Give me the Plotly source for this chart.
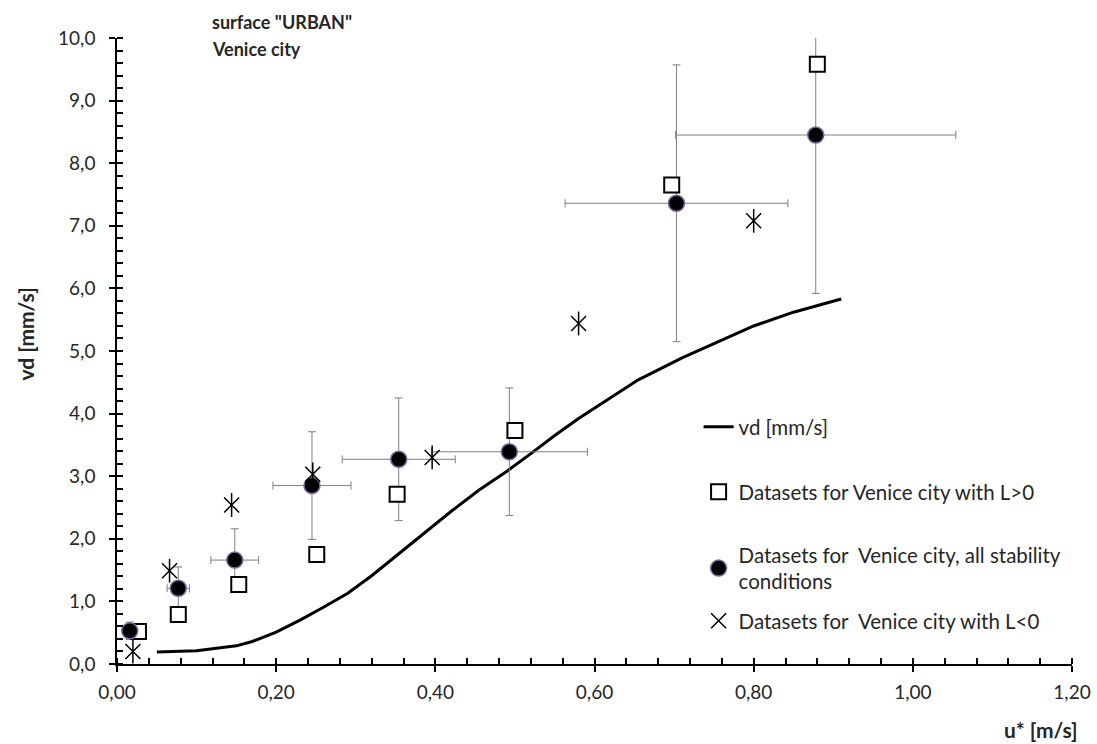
import plotly.graph_objects as go

# Model curve vd [mm/s]
line_x = [0.05, 0.10, 0.15, 0.17, 0.20, 0.23, 0.26, 0.29, 0.32, 0.355, 0.39, 0.42,
          0.455, 0.49, 0.52, 0.55, 0.58, 0.62, 0.655, 0.71, 0.75, 0.80, 0.85, 0.91]
line_y = [0.19, 0.21, 0.29, 0.36, 0.51, 0.70, 0.91, 1.13, 1.41, 1.77, 2.13, 2.44,
          2.78, 3.08, 3.36, 3.65, 3.92, 4.25, 4.54, 4.89, 5.12, 5.40, 5.62, 5.83]

# Datasets, all stability conditions (with error bars)
all_x = [0.016, 0.077, 0.148, 0.245, 0.354, 0.493, 0.703, 0.878]
all_y = [0.53, 1.21, 1.66, 2.85, 3.27, 3.39, 7.36, 8.45]
all_ex = [0.006, 0.014, 0.030, 0.049, 0.071, 0.098, 0.140, 0.176]
all_ey = [0.14, 0.34, 0.50, 0.86, 0.98, 1.02, 2.21, 2.53]

# Datasets with L>0
pos_x = [0.027, 0.077, 0.153, 0.251, 0.352, 0.500, 0.697, 0.880]
pos_y = [0.52, 0.79, 1.27, 1.75, 2.71, 3.73, 7.65, 9.58]

# Datasets with L<0
neg_x = [0.020, 0.066, 0.144, 0.246, 0.396, 0.580, 0.800]
neg_y = [0.20, 1.49, 2.54, 3.03, 3.30, 5.44, 7.08]

FONT = "Lato"
TXT = "#262626"
fig = go.Figure()

# model line
fig.add_trace(go.Scatter(x=line_x, y=line_y, mode="lines", name="vd [mm/s]",
                         line=dict(color="black", width=3), legend="legend"))

# error bars of all-stability datasets (drawn beneath markers)
fig.add_trace(go.Scatter(x=all_x, y=all_y, mode="markers", showlegend=False,
                         marker=dict(color="rgba(0,0,0,0)", size=1),
                         error_x=dict(type="data", array=all_ex, color="#7f7f7f",
                                      thickness=1, width=4),
                         error_y=dict(type="data", array=all_ey, color="#7f7f7f",
                                      thickness=1, width=4),
                         hoverinfo="skip"))

# L>0 squares
fig.add_trace(go.Scatter(x=pos_x, y=pos_y, mode="markers",
                         name="Datasets for Venice city with L>0",
                         marker=dict(symbol="square", size=15, color="white",
                                     line=dict(color="black", width=2)),
                         legend="legend2"))

# all stability circles
fig.add_trace(go.Scatter(x=all_x, y=all_y, mode="markers",
                         name="Datasets for  Venice city, all stability<br>conditions",
                         marker=dict(symbol="circle", size=16, color="black",
                                     line=dict(color="#8064a2", width=1.5)),
                         legend="legend3"))

# L<0 stars (X + vertical line)
fig.add_trace(go.Scatter(x=neg_x, y=neg_y, mode="markers",
                         name="Datasets for  Venice city with L<0",
                         marker=dict(symbol="x-thin-open", size=15, color="black",
                                     line=dict(color="black", width=1.5)),
                         legend="legend4"))
fig.add_trace(go.Scatter(x=neg_x, y=neg_y, mode="markers", showlegend=False,
                         marker=dict(symbol="line-ns-open", size=17, color="black",
                                     line=dict(color="black", width=1.5)),
                         hoverinfo="skip"))

# invisible trace to carry the overlay axes (inside half of crossing ticks)
fig.add_trace(go.Scatter(x=[None], y=[None], xaxis="x2", yaxis="y2",
                         showlegend=False, hoverinfo="skip"))

tickfont = dict(family=FONT, size=19, color=TXT)
axis_common = dict(showgrid=False, zeroline=False, showline=True, automargin=False,
                   linecolor="black", linewidth=1.5, ticks="outside",
                   ticklen=6, tickwidth=1.5, tickcolor="black", tickfont=tickfont)

legfont = dict(family=FONT, size=20.5, color=TXT)
LX = 0.609

fig.update_layout(
    width=1097, height=744,
    margin=dict(l=117, r=25, t=38, b=80, autoexpand=False),
    paper_bgcolor="white", plot_bgcolor="white",
    separators=",.",
    font=dict(family=FONT, size=20, color=TXT),
    xaxis=dict(range=[0, 1.2], dtick=0.2, tick0=0, tickformat=".2f",
               ticklabelstandoff=4,
               minor=dict(dtick=0.04, ticks="inside", ticklen=6, tickwidth=1.5,
                          tickcolor="black"),
               **axis_common),
    yaxis=dict(range=[0, 10], dtick=1, tick0=0, tickformat=".1f",
               ticklabelstandoff=10,
               minor=dict(dtick=0.2, ticks="inside", ticklen=6, tickwidth=1.5,
                          tickcolor="black"),
               **axis_common),
    xaxis2=dict(overlaying="x", anchor="y2", side="bottom", range=[0, 1.2],
                dtick=0.2, tick0=0, ticks="inside", ticklen=6, tickwidth=1.5,
                tickcolor="black", showticklabels=False, showline=False,
                showgrid=False, zeroline=False),
    yaxis2=dict(overlaying="y", anchor="x2", side="left", range=[0, 10],
                dtick=1, tick0=0, ticks="inside", ticklen=6, tickwidth=1.5,
                tickcolor="black", showticklabels=False, showline=False,
                showgrid=False, zeroline=False),
    showlegend=True,
    legend=dict(x=LX, y=0.3786, xanchor="left", yanchor="middle",
                bgcolor="rgba(0,0,0,0)", font=legfont),
    legend2=dict(x=LX, y=0.2748, xanchor="left", yanchor="middle",
                 bgcolor="rgba(0,0,0,0)", font=legfont),
    legend3=dict(x=LX, y=0.1526, xanchor="left", yanchor="middle",
                 bgcolor="rgba(0,0,0,0)", font=legfont),
    legend4=dict(x=LX, y=0.0687, xanchor="left", yanchor="middle",
                 bgcolor="rgba(0,0,0,0)", font=legfont),
    annotations=[
        dict(text="<b>surface \"URBAN\"</b>", xref="paper", yref="paper",
             x=0.097, y=1.026, xanchor="left", yanchor="middle", showarrow=False,
             font=dict(family=FONT, size=18, color=TXT)),
        dict(text="<b>Venice city</b>", xref="paper", yref="paper",
             x=0.097, y=0.982, xanchor="left", yanchor="middle", showarrow=False,
             font=dict(family=FONT, size=18, color=TXT)),
        dict(text="<b>vd [mm/s]</b>", xref="paper", yref="paper",
             x=-0.096, y=0.527, xanchor="center", yanchor="middle", textangle=-90,
             showarrow=False, font=dict(family=FONT, size=21, color=TXT)),
        dict(text="<b>u* [m/s]</b>", xref="paper", yref="paper",
             x=1.008, y=-0.105, xanchor="right", yanchor="middle",
             showarrow=False, font=dict(family=FONT, size=21, color=TXT)),
    ],
)

fig.write_html("out.html", config={"displayModeBar": False},
               post_script="document.body.style.margin='0';")
